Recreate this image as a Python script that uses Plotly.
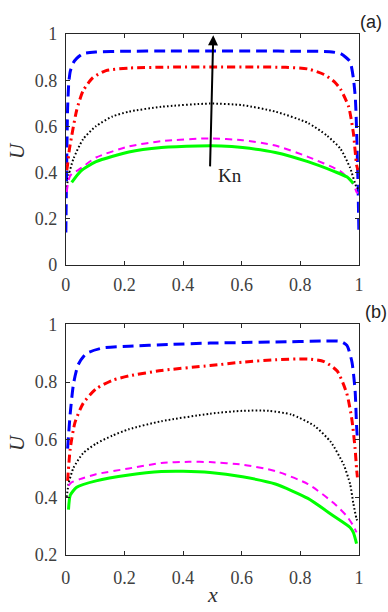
import plotly.graph_objects as go

# ---------- Panel (a) data ----------
a_blue_x = [0.0, 0.003, 0.006, 0.01, 0.015, 0.025, 0.037, 0.059, 0.103, 0.2, 0.35, 0.5, 0.65, 0.8, 0.9, 0.937, 0.955, 0.97, 0.981, 0.988, 0.993, 0.997, 1.0]
a_blue_y = [0.14, 0.45, 0.68, 0.79, 0.839, 0.875, 0.895, 0.916, 0.923, 0.926, 0.927, 0.927, 0.927, 0.926, 0.924, 0.916, 0.9, 0.881, 0.811, 0.72, 0.55, 0.35, 0.14]

a_red_x = [0.003, 0.006, 0.012, 0.02, 0.037, 0.059, 0.092, 0.137, 0.215, 0.35, 0.5, 0.65, 0.75, 0.826, 0.881, 0.915, 0.937, 0.965, 0.981, 0.992, 0.997]
a_red_y = [0.41, 0.434, 0.5, 0.559, 0.671, 0.755, 0.811, 0.842, 0.853, 0.857, 0.858, 0.858, 0.856, 0.849, 0.825, 0.795, 0.762, 0.685, 0.573, 0.434, 0.41]

a_blk_x = [0.003, 0.01, 0.026, 0.059, 0.103, 0.159, 0.215, 0.326, 0.492, 0.603, 0.715, 0.826, 0.892, 0.937, 0.97, 0.992, 0.998]
a_blk_y = [0.336, 0.39, 0.46, 0.545, 0.601, 0.643, 0.664, 0.685, 0.699, 0.692, 0.664, 0.615, 0.559, 0.503, 0.42, 0.336, 0.33]

a_mag_x = [0.003, 0.01, 0.02, 0.042, 0.103, 0.215, 0.326, 0.492, 0.603, 0.715, 0.826, 0.937, 0.981, 0.992, 0.997]
a_mag_y = [0.315, 0.37, 0.395, 0.41, 0.465, 0.513, 0.536, 0.548, 0.54, 0.517, 0.468, 0.405, 0.35, 0.315, 0.31]

a_grn_x = [0.02, 0.05, 0.103, 0.215, 0.326, 0.45, 0.53, 0.603, 0.715, 0.826, 0.915, 0.96, 0.981]
a_grn_y = [0.357, 0.405, 0.447, 0.489, 0.508, 0.515, 0.515, 0.508, 0.487, 0.447, 0.405, 0.38, 0.352]

# ---------- Panel (b) data ----------
b_blue_x = [0.006, 0.015, 0.026, 0.042, 0.07, 0.126, 0.215, 0.35, 0.492, 0.603, 0.715, 0.881, 0.937, 0.959, 0.976, 0.987, 0.992, 0.995]
b_blue_y = [0.569, 0.692, 0.793, 0.86, 0.899, 0.918, 0.924, 0.93, 0.935, 0.937, 0.939, 0.942, 0.941, 0.927, 0.871, 0.771, 0.65, 0.603]

b_red_x = [0.006, 0.015, 0.031, 0.059, 0.103, 0.159, 0.215, 0.326, 0.492, 0.603, 0.715, 0.826, 0.881, 0.926, 0.959, 0.976, 0.987, 0.992, 0.995]
b_red_y = [0.457, 0.569, 0.659, 0.726, 0.776, 0.806, 0.821, 0.84, 0.857, 0.869, 0.877, 0.88, 0.871, 0.838, 0.759, 0.67, 0.569, 0.5, 0.469]

b_blk_x = [0.003, 0.01, 0.026, 0.059, 0.103, 0.159, 0.215, 0.326, 0.492, 0.603, 0.692, 0.77, 0.848, 0.904, 0.948, 0.97, 0.981, 0.992, 0.997]
b_blk_y = [0.401, 0.45, 0.502, 0.553, 0.586, 0.614, 0.636, 0.664, 0.69, 0.7, 0.7, 0.687, 0.648, 0.592, 0.513, 0.446, 0.379, 0.325, 0.312]

b_mag_x = [0.009, 0.02, 0.048, 0.103, 0.215, 0.326, 0.42, 0.492, 0.603, 0.715, 0.826, 0.915, 0.959, 0.981, 0.992]
b_mag_y = [0.44, 0.452, 0.463, 0.48, 0.5, 0.519, 0.523, 0.522, 0.513, 0.491, 0.446, 0.379, 0.334, 0.301, 0.278]

b_grn_x = [0.009, 0.015, 0.037, 0.103, 0.215, 0.326, 0.4, 0.492, 0.603, 0.715, 0.826, 0.915, 0.97, 0.981, 0.992]
b_grn_y = [0.357, 0.407, 0.435, 0.457, 0.477, 0.489, 0.49, 0.486, 0.471, 0.446, 0.396, 0.334, 0.295, 0.278, 0.239]

x_ticks = [0, 0.2, 0.4, 0.6, 0.8, 1]
x_ticklabels = ["0", "0.2", "0.4", "0.6", "0.8", "1"]
a_y_ticks = [0, 0.2, 0.4, 0.6, 0.8, 1]
a_y_ticklabels = ["0", "0.2", "0.4", "0.6", "0.8", "1"]
b_y_ticks = [0.2, 0.4, 0.6, 0.8, 1]
b_y_ticklabels = ["0.2", "0.4", "0.6", "0.8", "1"]

W, H = 388, 612
fig = go.Figure()

styles = {
    "blue": dict(color="#0000ff", width=3, dash="11px,6px"),
    "red": dict(color="#ff0000", width=3, dash="8px,4px,2px,4px"),
    "blk": dict(color="#000000", width=2, dash="1.6px,2.2px"),
    "mag": dict(color="#ff00ff", width=2, dash="7px,5px"),
    "grn": dict(color="#00ff00", width=3, dash="solid"),
}

panel_a = [("blue", a_blue_x, a_blue_y), ("red", a_red_x, a_red_y), ("blk", a_blk_x, a_blk_y),
           ("mag", a_mag_x, a_mag_y), ("grn", a_grn_x, a_grn_y)]
panel_b = [("blue", b_blue_x, b_blue_y), ("red", b_red_x, b_red_y), ("blk", b_blk_x, b_blk_y),
           ("mag", b_mag_x, b_mag_y), ("grn", b_grn_x, b_grn_y)]

for key, xs, ys in panel_a:
    fig.add_trace(go.Scatter(x=xs, y=ys, mode="lines", line=dict(shape="spline", smoothing=0.6, **styles[key]),
                             xaxis="x", yaxis="y", showlegend=False))
for key, xs, ys in panel_b:
    fig.add_trace(go.Scatter(x=xs, y=ys, mode="lines", line=dict(shape="spline", smoothing=0.6, **styles[key]),
                             xaxis="x2", yaxis="y2", showlegend=False))

x0, x1 = 62.3, 362.3
ta, ba = 25.0, 263.3
tb, bb = 325.0, 563.3
xdom = [x0 / W, x1 / W]

serif = "Liberation Serif"
axcol = "#262626"
tickfont = dict(family=serif, size=18, color="#404040")
common = dict(showline=True, linecolor=axcol, linewidth=1, mirror="allticks", ticks="inside",
              ticklen=4, tickcolor=axcol, showgrid=False, zeroline=False, tickfont=tickfont)

fig.update_layout(
    width=W, height=H, margin=dict(l=0, r=0, t=0, b=0),
    plot_bgcolor="white", paper_bgcolor="white",
    xaxis=dict(domain=xdom, range=[0, 1], tickvals=x_ticks, ticktext=x_ticklabels, anchor="y",
               ticklabelstandoff=4, **common),
    yaxis=dict(domain=[1 - ba / H, 1 - ta / H], range=[0, 1], tickvals=a_y_ticks, ticktext=a_y_ticklabels,
               anchor="x", ticklabelstandoff=4, **common),
    xaxis2=dict(domain=xdom, range=[0, 1], tickvals=x_ticks, ticktext=x_ticklabels, anchor="y2",
                ticklabelstandoff=7, **common),
    yaxis2=dict(domain=[1 - bb / H, 1 - tb / H], range=[0.2, 1], tickvals=b_y_ticks, ticktext=b_y_ticklabels,
                anchor="x2", ticklabelstandoff=4, **common),
)

mid = dict(xanchor="center", yanchor="middle", showarrow=False)
ann = [
    dict(x=0.503, y=0.995, ax=0.492, ay=0.42, xref="x", yref="y", axref="x", ayref="y",
         showarrow=True, arrowhead=2, arrowsize=1, arrowwidth=2, arrowcolor="black", text=""),
    dict(x=0.559, y=0.385, xref="x", yref="y", text="Kn",
         font=dict(family=serif, size=19, color="#222"), **mid),
    dict(x=13 / W, y=1 - 145 / H, xref="paper", yref="paper", text="<i>U</i>", textangle=-90,
         font=dict(family=serif, size=21, color="#333"), **mid),
    dict(x=13 / W, y=1 - 447 / H, xref="paper", yref="paper", text="<i>U</i>", textangle=-90,
         font=dict(family=serif, size=21, color="#333"), **mid),
    dict(x=212 / W, y=1 - 604 / H, xref="paper", yref="paper", text="<i>x</i>",
         font=dict(family=serif, size=22, color="#333"), **mid),
    dict(x=375 / W, y=1 - 12 / H, xref="paper", yref="paper", text="(a)",
         font=dict(family="Liberation Sans", size=18, color="#222"), **mid),
    dict(x=380 / W, y=1 - 312 / H, xref="paper", yref="paper", text="(b)",
         font=dict(family="Liberation Sans", size=18, color="#222"), **mid),
]
fig.update_layout(annotations=ann)

fig.write_html("out.html")
